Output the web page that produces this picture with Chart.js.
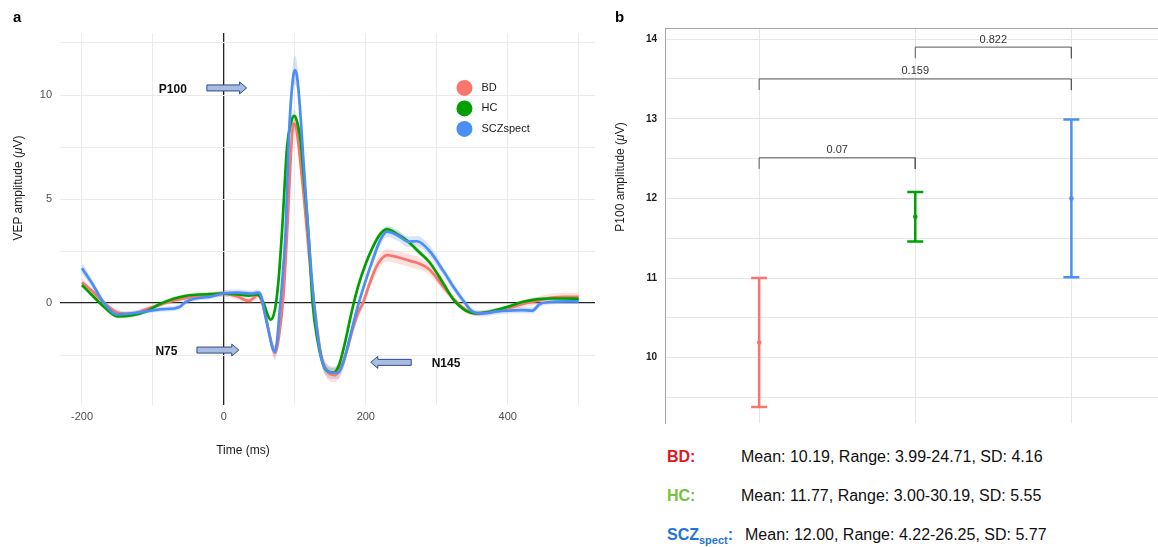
<!DOCTYPE html>
<html>
<head>
<meta charset="utf-8">
<script src="https://cdn.jsdelivr.net/npm/chart.js@4.4.1/dist/chart.umd.min.js"></script>
<style>
  body { margin: 0; background: #fff; font-family: 'Liberation Sans', Arial, sans-serif; }
  #page { position: relative; width: 1158px; height: 547px; overflow: hidden; }
  #boxA { position: absolute; left: 0; top: 0; width: 600px; height: 470px; }
  #boxB { position: absolute; left: 600px; top: 0; width: 569px; height: 437px; }
  .panel { position: absolute; font-weight: bold; font-size: 15px; color: #000; line-height: 18px; }
  .ytitle { position: absolute; transform: translate(-50%, -50%) rotate(-90deg); white-space: nowrap; font-size: 12px; color: #1a1a1a; }
  .xtitle { position: absolute; transform: translate(-50%, -50%); white-space: nowrap; font-size: 12px; color: #1a1a1a; }
  .stat { position: absolute; font-size: 16px; line-height: 20px; color: #111; white-space: nowrap; }
  .grp { font-weight: bold; }
  .grp sub { font-size: 11px; vertical-align: -4px; }
</style>
</head>
<body>
<div id="page">
  <div id="boxA"><canvas id="vep"></canvas></div>
  <div id="boxB"><canvas id="p100"></canvas></div>

  <div class="panel" style="left:13px;top:8px;">a</div>
  <div class="panel" style="left:615px;top:8px;">b</div>
  <div class="ytitle" style="left:18px;top:188px;">VEP amplitude (<i>μ</i>V)</div>
  <div class="xtitle" style="left:243px;top:450px;">Time (ms)</div>
  <div class="ytitle" style="left:620px;top:177px;">P100 amplitude (<i>μ</i>V)</div>

  <div class="stat grp" style="left:667px;top:447px;color:#e3161b;">BD:</div>
  <div class="stat" style="left:741px;top:447px;">Mean: 10.19, Range: 3.99-24.71, SD: 4.16</div>
  <div class="stat grp" style="left:667px;top:486px;color:#77bf43;">HC:</div>
  <div class="stat" style="left:741px;top:486px;">Mean: 11.77, Range: 3.00-30.19, SD: 5.55</div>
  <div class="stat grp" style="left:667px;top:525px;color:#1f74d6;">SCZ<sub>spect</sub>:</div>
  <div class="stat" style="left:745px;top:525px;">Mean: 12.00, Range: 4.22-26.25, SD: 5.77</div>
</div>

<script>
'use strict';

// ─── Panel a: grand-average VEP per group ────────────────────────────────────

const groups = ['BD', 'HC', 'SCZspect'];
const groupColors = ['#f8766d', '#00a000', '#4a8ff5'];
const ribbonColors = ['rgba(248,118,109,0.22)', 'rgba(0,160,0,0.12)', 'rgba(110,140,240,0.25)'];

const bdTime = [-200,-185,-170,-150,-130,-110,-90,-70,-55,-40,-20,0,20,35,42,48,54,60,66,72,78,84,90,95,98,102,108,113,120,127,137,146,157,166,174,182,190,196,205,215,230,245,260,275,290,310,325,340,355,370,385,400,420,440,460,480,500];
const bdVep  = [1.0,0.55,0.05,-0.45,-0.52,-0.3,-0.08,0.12,0.24,0.3,0.4,0.45,0.3,0.1,0.25,0.38,0.0,-0.8,-1.8,-2.4,-1.5,0.4,4.0,7.5,8.64,8.4,6.7,5.0,2.3,0.0,-2.5,-3.3,-3.46,-3.0,-2.2,-1.2,-0.4,0.0,0.9,1.75,2.3,2.2,2.05,1.9,1.6,0.75,0.15,-0.3,-0.5,-0.45,-0.38,-0.25,-0.05,0.1,0.25,0.3,0.3];
const bdSE   = [0.2,0.15,0.15,0.12,0.12,0.12,0.12,0.12,0.12,0.12,0.12,0.15,0.15,0.15,0.15,0.15,0.2,0.25,0.3,0.35,0.35,0.35,0.4,0.45,0.45,0.45,0.4,0.35,0.3,0.3,0.35,0.35,0.35,0.3,0.3,0.25,0.25,0.25,0.25,0.3,0.3,0.3,0.3,0.3,0.25,0.2,0.15,0.15,0.12,0.12,0.12,0.12,0.15,0.18,0.2,0.2,0.2];

const hcTime = [-200,-185,-170,-150,-130,-110,-90,-70,-55,-40,-20,0,20,35,47,56,62,66,72,77,82,89,94,99,104,108,113,120,125,132,141,148,155,162,170,177,183,190,200,210,220,230,245,260,275,290,310,325,340,355,370,385,400,420,440,460,480,500];
const hcVep  = [0.87,0.35,-0.15,-0.64,-0.6,-0.4,-0.05,0.22,0.34,0.4,0.43,0.45,0.42,0.36,0.42,0.0,-0.6,-0.8,-0.3,1.1,3.5,7.5,8.6,9.0,8.6,7.8,5.9,2.9,0.0,-1.8,-3.05,-3.3,-3.33,-3.0,-2.0,-0.9,0.0,0.9,1.9,2.7,3.3,3.54,3.3,2.95,2.45,1.95,0.9,0.1,-0.35,-0.5,-0.45,-0.32,-0.18,0.05,0.18,0.22,0.22,0.2];
const hcSE   = [0.15,0.12,0.12,0.1,0.1,0.1,0.1,0.1,0.1,0.1,0.1,0.1,0.1,0.1,0.1,0.12,0.15,0.15,0.15,0.2,0.25,0.3,0.3,0.3,0.3,0.3,0.25,0.2,0.2,0.2,0.2,0.2,0.2,0.2,0.2,0.15,0.15,0.15,0.15,0.15,0.15,0.15,0.15,0.15,0.15,0.15,0.12,0.12,0.1,0.1,0.1,0.1,0.1,0.1,0.1,0.1,0.1,0.1];

const sczTime = [-200,-185,-170,-150,-130,-110,-90,-70,-62,-54,-40,-20,0,20,40,48,53,57,64,68,72,75,78,82,87,92,97,100,103,106,113,120,127,137,146,154,161,168,175,183,190,200,210,220,230,245,260,272,290,310,325,340,350,365,385,400,420,435,445,460,480,500];
const sczVep  = [1.67,0.9,0.05,-0.55,-0.5,-0.4,-0.3,-0.26,-0.18,0.05,0.22,0.3,0.46,0.5,0.45,0.5,0.3,-0.4,-1.5,-2.1,-2.34,-1.8,-0.6,0.96,3.5,8.3,10.7,11.2,10.9,9.9,6.4,2.9,0.0,-2.6,-3.25,-3.35,-3.35,-2.9,-2.0,-0.9,0.0,1.1,2.1,3.0,3.43,3.25,2.95,2.97,2.5,1.5,0.7,0.0,-0.4,-0.5,-0.4,-0.36,-0.34,-0.36,-0.05,0.05,0.08,0.08];
const sczSE   = [0.25,0.2,0.15,0.12,0.12,0.12,0.12,0.12,0.12,0.12,0.12,0.12,0.15,0.15,0.15,0.15,0.15,0.2,0.25,0.3,0.3,0.3,0.3,0.35,0.45,0.55,0.65,0.7,0.65,0.55,0.45,0.35,0.3,0.3,0.3,0.3,0.3,0.3,0.25,0.2,0.2,0.2,0.25,0.25,0.25,0.25,0.25,0.25,0.25,0.2,0.2,0.15,0.15,0.15,0.15,0.15,0.15,0.15,0.15,0.12,0.12,0.12];

const timeGrid = [-200, -100, 0, 100, 200, 300, 400, 500];
const vepGrid = [-2.5, 0, 2.5, 5, 7.5, 10, 12.5];

// component labels: text, label position, arrow tail / head (ms, µV)
const peakMarks = [
  { text: 'P100', tx: -72, ty: 10.24, from: -24, to: 32, ay: 10.34 },
  { text: 'N75',  tx: -81, ty: -2.36, from: -38, to: 21, ay: -2.26 },
  { text: 'N145', tx: 313, ty: -2.9,  from: 264, to: 207, ay: -2.85 },
];

const traces = [
  { t: bdTime, v: bdVep, se: bdSE },
  { t: hcTime, v: hcVep, se: hcSE },
  { t: sczTime, v: sczVep, se: sczSE },
];

const pts = (t, v, off, sign) => t.map((x, i) => ({ x, y: v[i] + (off ? sign * off[i] : 0) }));

const vepDatasets = [];
traces.forEach((tr, g) => {
  vepDatasets.push({ data: pts(tr.t, tr.v, tr.se, -1), borderWidth: 0, pointRadius: 0, fill: false,
    cubicInterpolationMode: 'monotone', order: 5 });
  vepDatasets.push({ data: pts(tr.t, tr.v, tr.se, 1), borderWidth: 0, pointRadius: 0, fill: '-1',
    backgroundColor: ribbonColors[g], cubicInterpolationMode: 'monotone', order: 5 });
});
traces.forEach((tr, g) => {
  vepDatasets.push({ label: groups[g], data: pts(tr.t, tr.v), borderColor: groupColors[g], borderWidth: 2.7,
    pointRadius: 0, fill: false, cubicInterpolationMode: 'monotone', order: 3 - g * 0.5 });
});

function drawArrow(ctx, x1, x2, y) {
  const dir = Math.sign(x2 - x1);
  const head = 7, bodyH = 3, headH = 6;
  const xb = x2 - dir * head;
  ctx.save();
  ctx.beginPath();
  ctx.moveTo(x1, y - bodyH);
  ctx.lineTo(xb, y - bodyH);
  ctx.lineTo(xb, y - headH);
  ctx.lineTo(x2, y);
  ctx.lineTo(xb, y + headH);
  ctx.lineTo(xb, y + bodyH);
  ctx.lineTo(x1, y + bodyH);
  ctx.closePath();
  ctx.fillStyle = '#aabde0';
  ctx.fill();
  ctx.strokeStyle = '#2c4a8c';
  ctx.lineWidth = 1;
  ctx.stroke();
  ctx.restore();
}

const vepOverlay = {
  id: 'vepOverlay',
  afterDatasetsDraw(chart) {
    const { ctx, scales: { x, y } } = chart;
    ctx.save();
    ctx.font = 'bold 12px "Liberation Sans", Arial, sans-serif';
    ctx.fillStyle = '#111';
    ctx.textAlign = 'center';
    ctx.textBaseline = 'middle';
    peakMarks.forEach(m => {
      ctx.fillText(m.text, x.getPixelForValue(m.tx), y.getPixelForValue(m.ty));
      drawArrow(ctx, x.getPixelForValue(m.from), x.getPixelForValue(m.to), y.getPixelForValue(m.ay));
    });
    // legend
    const lx = x.getPixelForValue(339);
    const ly = y.getPixelForValue(10.34);
    ctx.font = '11px "Liberation Sans", Arial, sans-serif';
    ctx.textAlign = 'left';
    groups.forEach((g, i) => {
      const cy = ly + i * 20.5;
      ctx.beginPath();
      ctx.arc(lx, cy, 8, 0, Math.PI * 2);
      ctx.fillStyle = groupColors[i];
      ctx.fill();
      ctx.fillStyle = '#1a1a1a';
      ctx.fillText(g, lx + 17, cy);
    });
    ctx.restore();
  },
};

new Chart(document.getElementById('vep'), {
  type: 'line',
  data: { datasets: vepDatasets },
  options: {
    responsive: true, maintainAspectRatio: false, animation: false,
    layout: { padding: { top: 33, right: 5, left: 0, bottom: 0 } },
    plugins: { legend: { display: false }, tooltip: { enabled: false } },
    scales: {
      x: {
        type: 'linear', min: -231, max: 523,
        afterBuildTicks: ax => { ax.ticks = timeGrid.map(v => ({ value: v })); },
        afterFit: ax => { ax.height = 65; },
        border: { display: false },
        grid: {
          drawTicks: false,
          color: c => (c.tick && c.tick.value === 0 ? '#222' : '#ebebeb'),
          lineWidth: c => (c.tick && c.tick.value === 0 ? 1.3 : 1),
        },
        ticks: { padding: 5, autoSkip: false, maxRotation: 0, color: '#4d4d4d', font: { size: 11 },
          callback: v => (v % 200 === 0 ? v : '') },
      },
      y: {
        min: -4.9, max: 12.98,
        afterBuildTicks: ax => { ax.ticks = vepGrid.map(v => ({ value: v })); },
        afterFit: ax => { ax.width = 60; },
        border: { display: false },
        grid: {
          drawTicks: false,
          color: c => (c.tick && c.tick.value === 0 ? '#222' : '#ebebeb'),
          lineWidth: c => (c.tick && c.tick.value === 0 ? 1.3 : 1),
        },
        ticks: { padding: 8, color: '#4d4d4d', font: { size: 11 },
          callback: v => (v % 5 === 0 ? v : '') },
      },
    },
  },
  plugins: [vepOverlay],
});

// ─── Panel b: P100 amplitude mean with interval ─────────────────────────────

const groupPos = [1, 2, 3];
const p100Mean = [10.19, 11.77, 12.00];
const p100Low  = [9.38, 11.46, 11.01];
const p100High = [11.00, 12.08, 12.99];

const pairFrom = [1, 1, 2];
const pairTo   = [2, 3, 3];
const pairY    = [12.51, 13.5, 13.9];
const pairP    = ['0.07', '0.159', '0.822'];

const ampGrid = [9.5, 10, 10.5, 11, 11.5, 12, 12.5, 13, 13.5, 14];

const ampDatasets = [];
groupPos.forEach((x, i) => {
  const c = groupColors[i];
  ampDatasets.push({ data: [{ x, y: p100Low[i] }, { x, y: p100High[i] }], showLine: true,
    borderColor: c, borderWidth: 2.5, pointStyle: 'line', pointRadius: 8,
    pointBorderColor: c, pointBorderWidth: 2.5 });
  ampDatasets.push({ data: [{ x, y: p100Mean[i] }], pointStyle: 'circle', pointRadius: 2.3,
    backgroundColor: c, borderColor: c, borderWidth: 0 });
});
pairFrom.forEach((a, k) => {
  const b = pairTo[k], h = pairY[k];
  ampDatasets.push({ data: [{ x: a, y: h - 0.14 }, { x: a, y: h }, { x: b, y: h }, { x: b, y: h - 0.14 }],
    showLine: true, borderColor: '#595959', borderWidth: 1, pointRadius: 0, tension: 0 });
});

const ampOverlay = {
  id: 'ampOverlay',
  afterDatasetsDraw(chart) {
    const { ctx, chartArea, scales: { x, y } } = chart;
    ctx.save();
    ctx.strokeStyle = '#a6a6a6';
    ctx.lineWidth = 1;
    ctx.beginPath();
    ctx.moveTo(chartArea.left, chartArea.top + 0.5);
    ctx.lineTo(chartArea.right, chartArea.top + 0.5);
    ctx.stroke();
    ctx.font = '11px "Liberation Sans", Arial, sans-serif';
    ctx.fillStyle = '#333';
    ctx.textAlign = 'center';
    ctx.textBaseline = 'middle';
    pairP.forEach((p, k) => {
      ctx.fillText(p, x.getPixelForValue((pairFrom[k] + pairTo[k]) / 2), y.getPixelForValue(pairY[k]) - 7.5);
    });
    ctx.restore();
  },
};

new Chart(document.getElementById('p100'), {
  type: 'scatter',
  data: { datasets: ampDatasets },
  options: {
    responsive: true, maintainAspectRatio: false, animation: false,
    layout: { padding: { top: 28, right: 0, left: 0, bottom: 1 } },
    plugins: { legend: { display: false }, tooltip: { enabled: false } },
    scales: {
      x: {
        type: 'linear', min: 0.397, max: 3.558,
        afterBuildTicks: ax => { ax.ticks = groupPos.map(v => ({ value: v })); },
        afterFit: ax => { ax.height = 0; },
        border: { display: false },
        grid: { drawTicks: false, color: '#e6e6e6' },
        ticks: { display: false },
      },
      y: {
        min: 9.18, max: 14.14,
        afterBuildTicks: ax => { ax.ticks = ampGrid.map(v => ({ value: v })); },
        afterFit: ax => { ax.width = 65; },
        border: { display: true, color: '#a6a6a6', width: 1 },
        grid: { drawTicks: false, color: '#e6e6e6' },
        ticks: { padding: 8, color: '#1a1a1a', font: { size: 10, weight: 'bold' },
          callback: v => (Number.isInteger(v) ? v : '') },
      },
    },
  },
  plugins: [ampOverlay],
});
</script>
</body>
</html>
